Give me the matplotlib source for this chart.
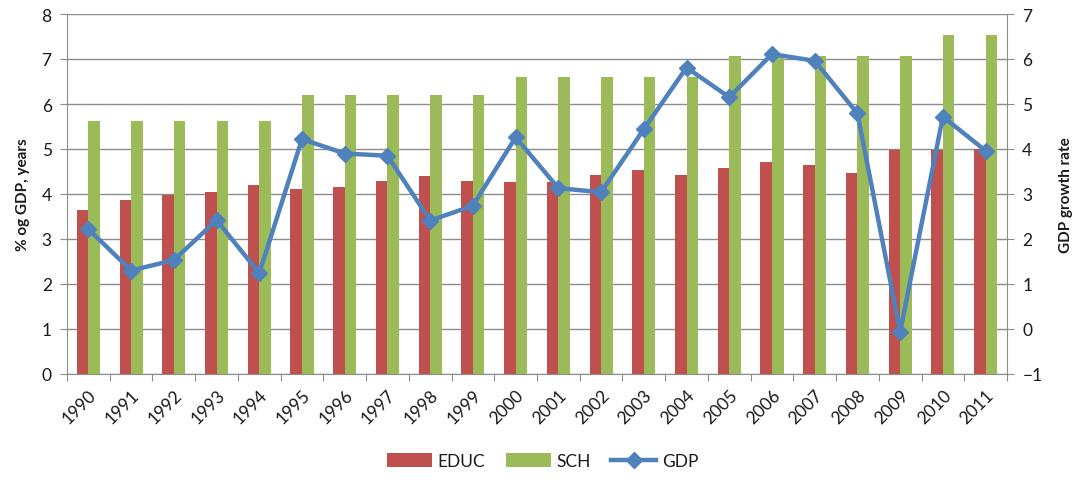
import matplotlib
matplotlib.use("Agg")
import matplotlib.pyplot as plt
import numpy as np

years = [str(y) for y in range(1990, 2012)]
educ = [3.65, 3.86, 3.98, 4.04, 4.21, 4.11, 4.15, 4.29, 4.39, 4.29, 4.26,
        4.26, 4.43, 4.53, 4.43, 4.57, 4.71, 4.64, 4.47, 4.98, 4.98, 4.99]
sch = [5.63, 5.63, 5.63, 5.63, 5.63, 6.19, 6.19, 6.19, 6.19, 6.19, 6.59,
       6.59, 6.59, 6.59, 6.59, 7.07, 7.07, 7.07, 7.07, 7.07, 7.54, 7.54]
gdp = [2.22, 1.30, 1.53, 2.42, 1.24, 4.22, 3.90, 3.85, 2.41, 2.74, 4.26,
       3.13, 3.04, 4.44, 5.81, 5.15, 6.11, 5.96, 4.79, -0.06, 4.72, 3.96]

RED = "#C0504D"
GREEN = "#9BBB59"
BLUE = "#4F81BD"
GRID = "#8C8C8C"
TXT = "#1a1a1a"

plt.rcParams['font.family'] = ['Lato', 'DejaVu Sans']

fig = plt.figure(figsize=(10.85, 4.81), dpi=100)
ax = fig.add_axes([67/1085, 1-375/481, 940/1085, 360/481])

x = np.arange(len(years))
w = 0.27
ax.bar(x - w/2, educ, width=w, color=RED, label="EDUC", zorder=2)
ax.bar(x + w/2, sch, width=w, color=GREEN, label="SCH", zorder=2)

ax.set_xlim(-0.5, len(years) - 0.5)
ax.set_ylim(0, 8)
ax.set_yticks(range(0, 9))
ax.yaxis.grid(True, color=GRID, linewidth=1.0, zorder=0)
ax.set_axisbelow(True)

ax.set_xticks(np.arange(-0.5, len(years), 1.0))
ax.set_xticklabels([])
ax.set_xticks(x, minor=True)
ax.set_xticklabels(years, minor=True, rotation=45, ha='right',
                   rotation_mode='anchor', fontsize=12.5, color=TXT)
ax.tick_params(axis='x', which='minor', length=0, pad=9)
ax.tick_params(axis='x', which='major', length=5, color=GRID, direction='out')
ax.tick_params(axis='y', length=5, color=GRID, direction='out',
               labelsize=12.5, labelcolor=TXT, pad=6)

for s in ['top', 'right']:
    ax.spines[s].set_visible(False)
for s in ['left', 'bottom']:
    ax.spines[s].set_color(GRID)

ax.set_ylabel("% og GDP, years", fontsize=11, fontweight='bold', labelpad=8,
              color=TXT)

ax2 = ax.twinx()
ax2.plot(x, gdp, color=BLUE, linewidth=3.2, marker='D', markersize=8,
         label="GDP", zorder=3)
ax2.set_ylim(-1, 7)
ax2.set_yticks(range(-1, 8))
for s in ['top', 'left', 'bottom']:
    ax2.spines[s].set_visible(False)
ax2.spines['right'].set_color(GRID)
ax2.tick_params(axis='y', length=5, color=GRID, direction='out',
                labelsize=12.5, labelcolor=TXT, pad=6)
ax2.set_ylabel("GDP growth rate", fontsize=11, fontweight='bold', labelpad=12,
               color=TXT)

h1, l1 = ax.get_legend_handles_labels()
h2, l2 = ax2.get_legend_handles_labels()
fig.legend(h1 + h2, l1 + l2, loc='lower center', bbox_to_anchor=(0.5, -0.01),
           ncol=3, frameon=False, fontsize=12.5, handlelength=2.6,
           handleheight=0.85, columnspacing=1.2, handletextpad=0.3,
           labelcolor=TXT)

fig.savefig("out.png", dpi=100)
